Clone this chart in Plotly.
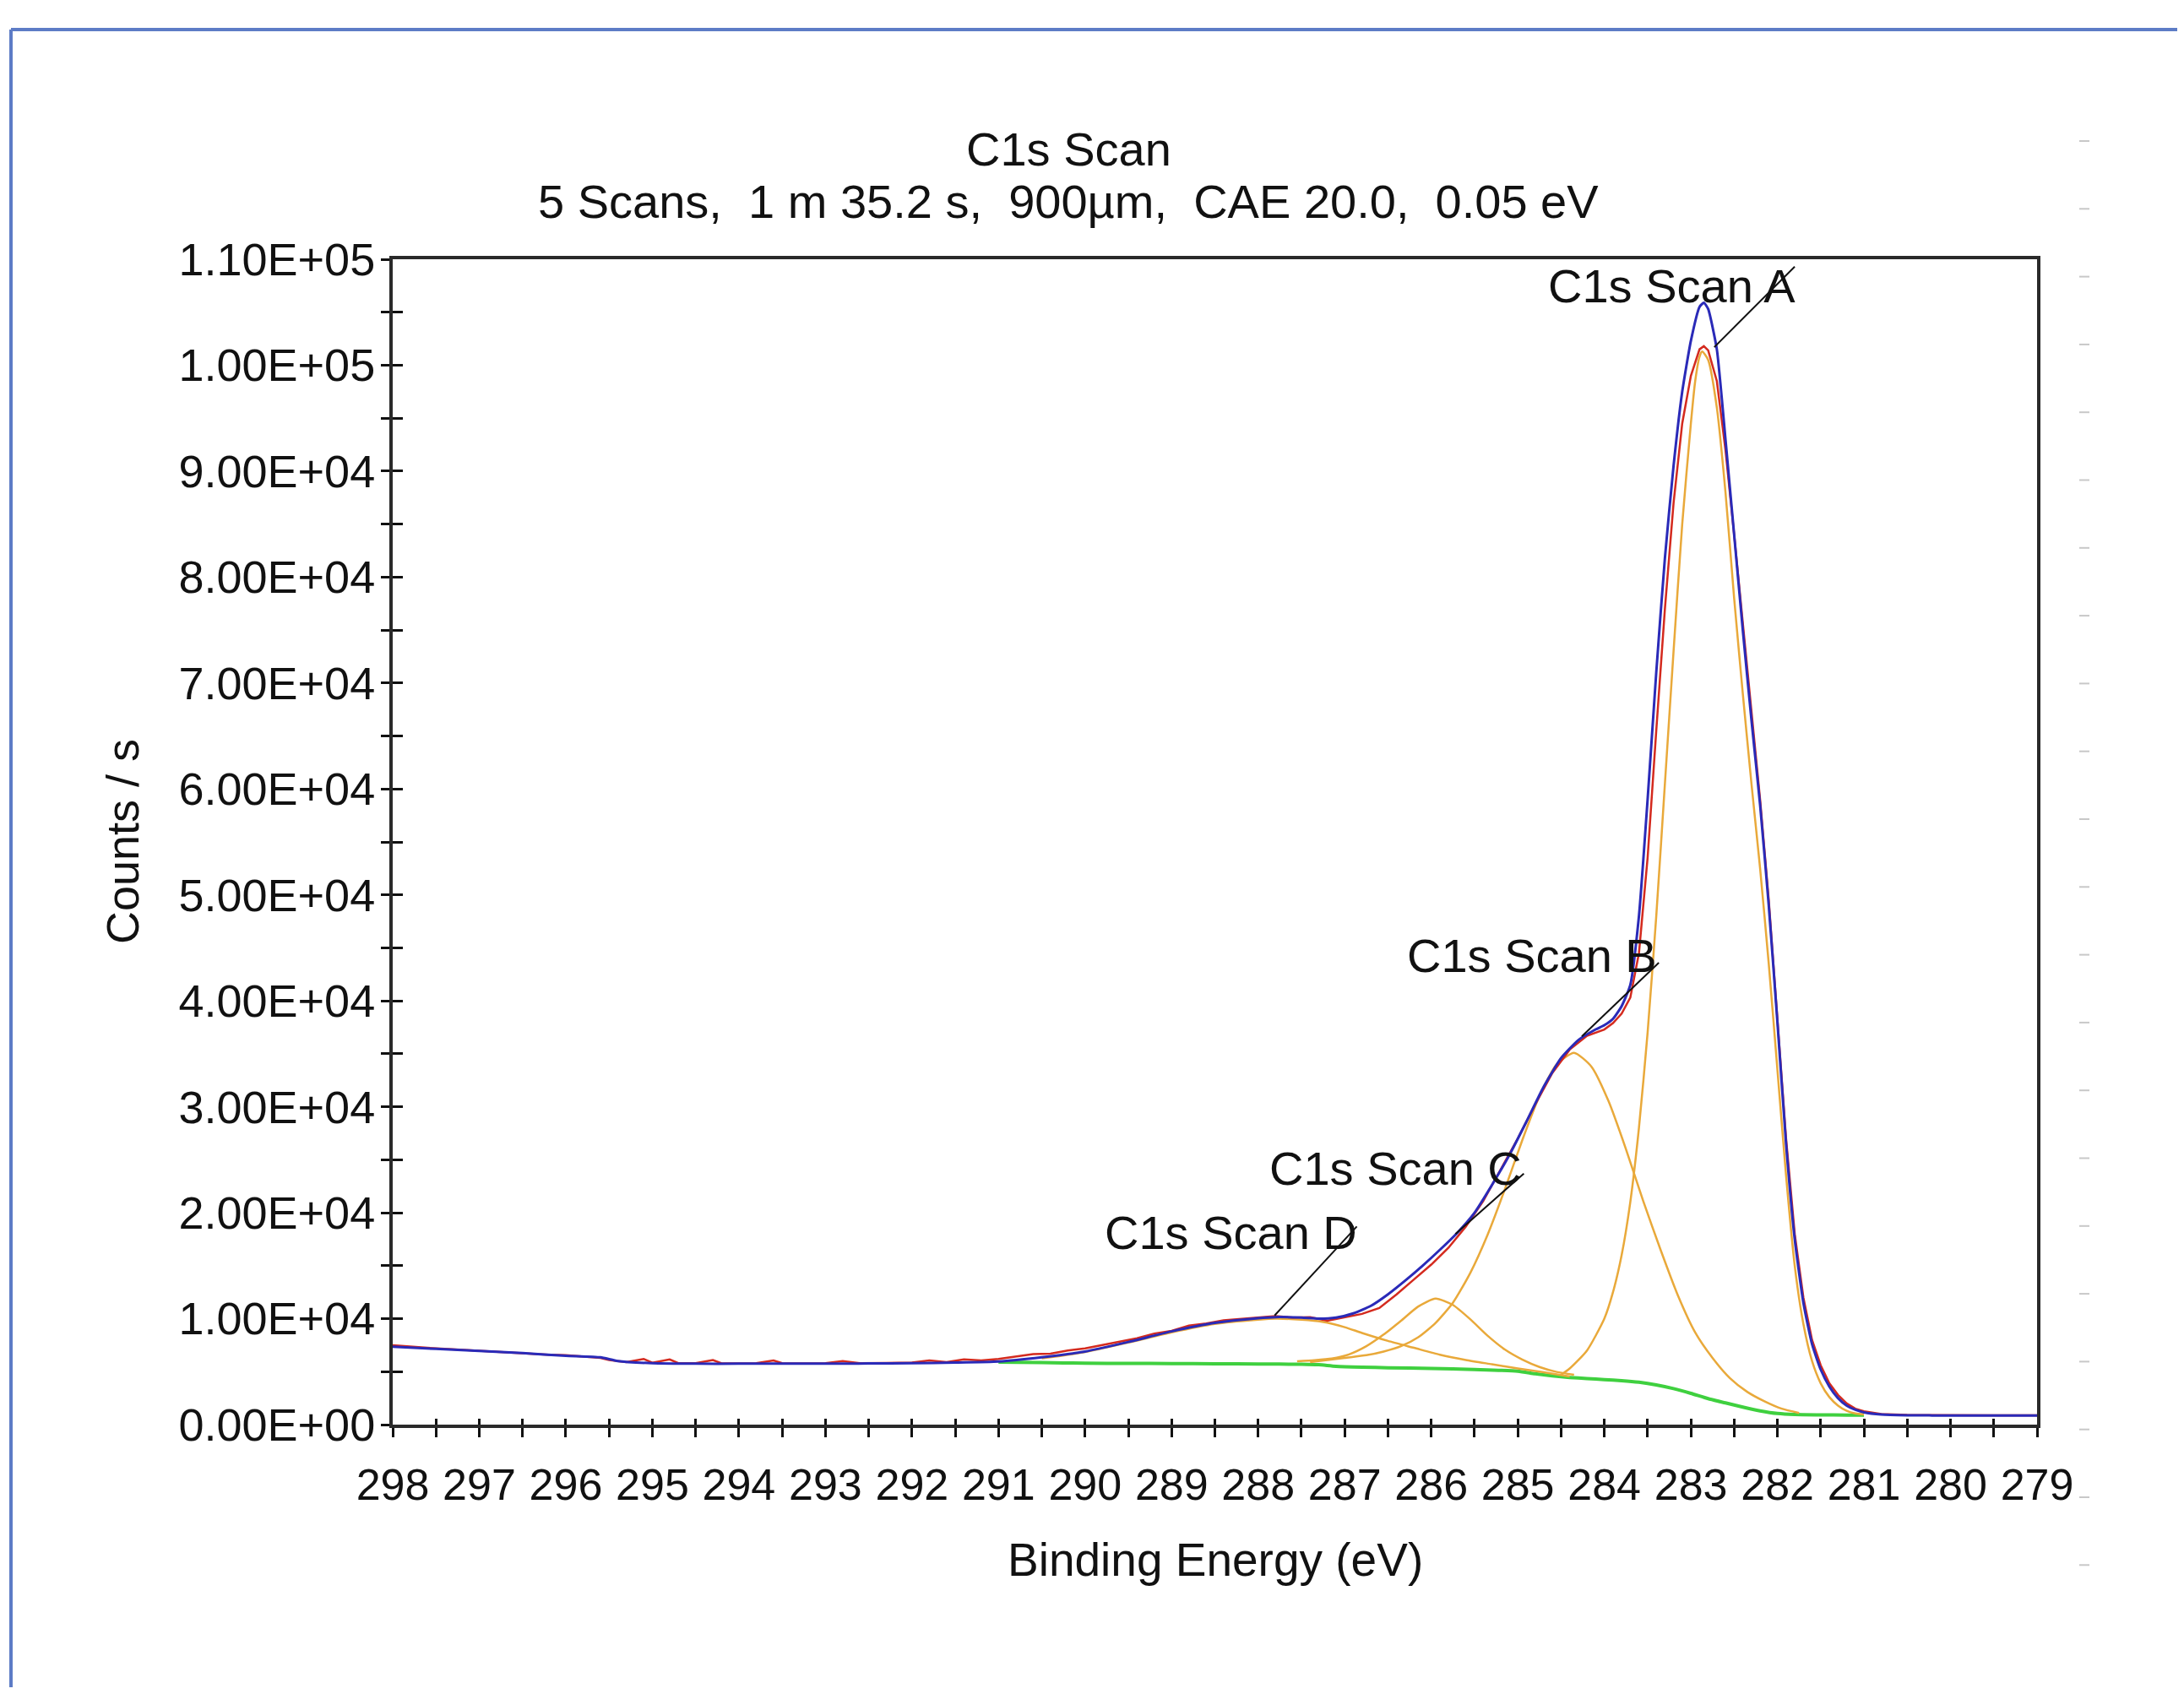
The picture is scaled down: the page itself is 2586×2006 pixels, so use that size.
import plotly.graph_objects as go

# ---------------- data ----------------
# Measured spectrum (red)
data_e = [298.0, 297.8, 297.6, 297.4, 297.2, 297.0, 296.8, 296.6, 296.4, 296.2, 296.0, 295.8, 295.6, 295.5,
          295.3, 295.1, 295.0, 294.8, 294.7, 294.5, 294.3, 294.2, 294.0, 293.8, 293.6, 293.5, 293.2, 293.0,
          292.8, 292.6, 292.3, 292.0, 291.8, 291.6, 291.4, 291.2, 291.0, 290.8, 290.6, 290.4, 290.2, 290.0,
          289.8, 289.6, 289.4, 289.2, 289.0, 288.8, 288.6, 288.4, 288.2, 288.0, 287.8, 287.6, 287.4, 287.2,
          287.0, 286.8, 286.6, 286.4, 286.2, 286.0, 285.8, 285.6, 285.4, 285.2, 285.0, 284.8, 284.6, 284.4,
          284.2, 284.0, 283.9, 283.8, 283.7, 283.6, 283.5, 283.4, 283.3, 283.2, 283.1, 283.0, 282.9, 282.85,
          282.8, 282.7, 282.6, 282.5, 282.4, 282.3, 282.2, 282.1, 282.0, 281.9, 281.8, 281.7, 281.6, 281.5,
          281.4, 281.3, 281.2, 281.1, 281.0, 280.8, 280.5, 280.0, 279.5, 279.0]
data_c = [7500, 7350, 7250, 7150, 7050, 7000, 6900, 6800, 6700, 6600, 6550, 6450, 6300, 6100,
          5900, 6200, 5850, 6150, 5800, 5800, 6100, 5780, 5780, 5800, 6050, 5800, 5780, 5800,
          6000, 5800, 5820, 5850, 6050, 5900, 6150, 6050, 6200, 6400, 6650, 6700, 7000, 7200,
          7500, 7800, 8150, 8600, 8850, 9350, 9550, 9850, 10000, 10150, 10250, 10100, 10150, 9800,
          10150, 10450, 11000, 12300, 13700, 15100, 16700, 18700, 21100, 24000, 27000, 30200, 33200, 35400,
          36700, 37300, 37900, 38800, 40300, 44500, 53500, 65500, 77000, 87000, 94500, 99000, 101500, 101800,
          101400, 98500, 92000, 84000, 75500, 67000, 59000, 49500, 38500, 27000, 18000, 12000, 8000, 5600,
          3900, 2800, 2000, 1500, 1250, 1000, 920, 880, 870, 870]

# Fitted envelope (blue)
env_e = [298.0, 297.5, 297.0, 296.5, 296.0, 295.6, 295.4, 295.0, 294.5, 294.0, 293.5, 293.0, 292.5, 292.0,
         291.5, 291.0, 290.5, 290.0, 289.5, 289.0, 288.5, 288.0, 287.8, 287.5, 287.3, 287.1, 286.9, 286.7,
         286.5, 286.3, 286.1, 285.9, 285.7, 285.5, 285.3, 285.1, 284.9, 284.7, 284.5, 284.3, 284.1, 284.0,
         283.9, 283.8, 283.7, 283.6, 283.5, 283.4, 283.3, 283.2, 283.1, 283.0, 282.9, 282.85, 282.8, 282.7,
         282.6, 282.5, 282.4, 282.3, 282.2, 282.1, 282.0, 281.9, 281.8, 281.7, 281.6, 281.5, 281.4, 281.3,
         281.2, 281.1, 281.0, 280.8, 280.5, 280.0, 279.5, 279.0]
env_c = [7350, 7150, 6950, 6750, 6500, 6350, 6000, 5800, 5750, 5750, 5750, 5750, 5770, 5800,
         5850, 5950, 6350, 6900, 7800, 8800, 9600, 10050, 10150, 10100, 10000, 10100, 10500, 11200,
         12300, 13600, 15000, 16500, 18100, 20000, 22600, 25400, 28600, 31900, 34600, 36300, 37300, 37700,
         38300, 39500, 41500, 48000, 59000, 71000, 81800, 90500, 97500, 102300, 105500, 105900, 105300, 101500,
         93000, 84000, 75000, 66500, 58500, 49000, 38000, 26500, 17500, 11500, 7600, 5200, 3600, 2500,
         1800, 1400, 1150, 950, 880, 860, 850, 850]

# Background (green)
bg_e = [291.0, 290.5, 290.0, 289.5, 289.0, 288.5, 288.0, 287.5, 287.3, 287.1, 286.8, 286.5, 286.0, 285.5,
        285.0, 284.8, 284.6, 284.4, 284.2, 284.0, 283.8, 283.6, 283.4, 283.2, 283.0, 282.8, 282.6, 282.4,
        282.2, 282.0, 281.8, 281.5, 281.2, 281.0]
bg_c = [5900, 5850, 5800, 5780, 5760, 5740, 5720, 5700, 5650, 5500, 5420, 5370, 5300, 5200,
        5050, 4800, 4600, 4450, 4350, 4250, 4150, 4000, 3750, 3400, 2950, 2450, 2050, 1650,
        1300, 1050, 950, 920, 900, 900]

# Fitted components (orange)
compA_e = [284.5, 284.4, 284.2, 284.0, 283.9, 283.8, 283.7, 283.6, 283.5, 283.4, 283.3, 283.2, 283.1, 283.0,
           282.95, 282.9, 282.87, 282.8, 282.7, 282.6, 282.5, 282.4, 282.3, 282.2, 282.1, 282.0, 281.9,
           281.8, 281.7, 281.6, 281.5, 281.4, 281.3, 281.2, 281.1, 281.0]
compA_c = [4700, 5300, 7000, 10000, 12500, 16000, 21000, 28000, 37000, 48000, 60500, 73000, 85000, 94500,
           98500, 100800, 101300, 100500, 96000, 88000, 78000, 69000, 60500, 52500, 43500, 33500, 23500,
           15000, 9500, 6000, 3900, 2600, 1800, 1300, 1050, 950]

compB_e = [287.4, 287.0, 286.75, 286.55, 286.35, 286.15, 285.95, 285.75, 285.55, 285.35, 285.15, 284.95,
           284.75, 284.55, 284.35, 284.15, 283.95, 283.75, 283.55, 283.35, 283.15, 282.95, 282.75, 282.55,
           282.35, 282.15, 281.95, 281.75]
compB_c = [5900, 6300, 6550, 6900, 7400, 8250, 9600, 11500, 14300, 17900, 22200, 26800,
           31000, 34000, 35100, 33800, 30500, 26000, 21100, 16500, 12200, 8700, 6300, 4400,
           3100, 2200, 1500, 1100]

compC_e = [287.55, 287.35, 287.15, 286.95, 286.75, 286.55, 286.35, 286.15, 285.95, 285.75, 285.55, 285.35,
           285.15, 284.95, 284.75, 284.55, 284.35]
compC_c = [5980, 6080, 6240, 6630, 7400, 8500, 9800, 11150, 11900, 11300, 9950, 8400,
           7090, 6150, 5440, 4970, 4710]

compD_e = [290.5, 290.0, 289.5, 289.0, 288.5, 288.0, 287.8, 287.5, 287.26, 287.0, 286.8, 286.5, 286.2,
           285.9, 285.6, 285.3, 285.0, 284.7, 284.4]
compD_c = [6250, 6850, 7750, 8700, 9500, 9900, 10000, 9900, 9700, 9200, 8650, 7900, 7250,
           6600, 6100, 5700, 5300, 4950, 4550]

# Peak labels: text position and leader line (from label to peak)
peak_names = ["C1s Scan A", "C1s Scan B", "C1s Scan C", "C1s Scan D"]
label_e = [283.22, 284.84, 286.41, 288.31]
label_c = [107500, 44300, 24200, 18150]
leader_start_e = [281.80, 283.37, 284.93, 286.86]
leader_start_c = [109300, 43600, 23700, 18700]
leader_end_e = [282.73, 284.26, 285.72, 287.81]
leader_end_c = [101700, 36650, 18000, 10300]

x_range = [298, 279]
y_range = [0, 110000]
y_tickvals = [i * 10000 for i in range(12)]
y_ticktext = [f"{v:.2E}" for v in y_tickvals]

title_line1 = "C1s Scan"
title_line2 = "5 Scans,  1 m 35.2 s,  900µm,  CAE 20.0,  0.05 eV"
x_title = "Binding Energy (eV)"
y_title = "Counts / s"

# ---------------- styling ----------------
FONT = "Arial, Liberation Sans, sans-serif"
C_ENV = "#2a2ab8"
C_DATA = "#d42a1e"
C_COMP = "#e9a93a"
C_BG = "#3fd03f"
OFF = 8  # page body margin
W, H = 2570, 1990
ML, MT = 457, 299
PW, PH = 1947, 1380
MR, MB = W - ML - PW, H - MT - PH


def px_x(px):
    # screen pixel -> paper x
    return (px - OFF - ML) / PW


def px_y(py):
    # screen pixel -> paper y
    return (MT + PH - (py - OFF)) / PH


fig = go.Figure()

fig.add_trace(go.Scatter(x=bg_e, y=bg_c, mode="lines", line=dict(color=C_BG, width=4, shape="spline", smoothing=0.6),
                         name="Background", hoverinfo="skip"))
for ce, cc, nm in [(compD_e, compD_c, "D"), (compC_e, compC_c, "C"), (compB_e, compB_c, "B"), (compA_e, compA_c, "A")]:
    fig.add_trace(go.Scatter(x=ce, y=cc, mode="lines",
                             line=dict(color=C_COMP, width=2.5, shape="spline", smoothing=0.6),
                             name="C1s Scan " + nm))
fig.add_trace(go.Scatter(x=data_e, y=data_c, mode="lines", line=dict(color=C_DATA, width=2.5), name="Data"))
fig.add_trace(go.Scatter(x=env_e, y=env_c, mode="lines",
                         line=dict(color=C_ENV, width=3, shape="spline", smoothing=0.5), name="Envelope"))

# leader lines
for i in range(len(peak_names)):
    fig.add_trace(go.Scatter(x=[leader_start_e[i], leader_end_e[i]], y=[leader_start_c[i], leader_end_c[i]],
                             mode="lines", line=dict(color="#111111", width=2), hoverinfo="skip"))

# dummy trace for overlay axes (inner halves of the crossing ticks)
fig.add_trace(go.Scatter(x=[None], y=[None], xaxis="x2", yaxis="y2", hoverinfo="skip"))

annotations = []
for i, nm in enumerate(peak_names):
    annotations.append(dict(x=label_e[i], y=label_c[i], xref="x", yref="y", text=nm, showarrow=False,
                            font=dict(family=FONT, size=56, color="#111111"), xanchor="center", yanchor="middle"))
annotations += [
    dict(x=px_x(1265), y=px_y(176), xref="paper", yref="paper", text=title_line1, showarrow=False,
         font=dict(family=FONT, size=56, color="#111111"), xanchor="center", yanchor="middle"),
    dict(x=px_x(1265), y=px_y(239), xref="paper", yref="paper", text=title_line2, showarrow=False,
         font=dict(family=FONT, size=56, color="#111111"), xanchor="center", yanchor="middle"),
    dict(x=0.5, y=px_y(1847), xref="paper", yref="paper", text=x_title, showarrow=False,
         font=dict(family=FONT, size=55, color="#111111"), xanchor="center", yanchor="middle"),
    dict(x=px_x(145), y=0.5, xref="paper", yref="paper", text=y_title, showarrow=False, textangle=-90,
         font=dict(family=FONT, size=54, color="#111111"), xanchor="center", yanchor="middle"),
]

shapes = [
    dict(type="line", xref="paper", yref="paper", x0=px_x(13), x1=px_x(2600), y0=px_y(35), y1=px_y(35),
         line=dict(color="#5d7cc6", width=4)),
    dict(type="line", xref="paper", yref="paper", x0=px_x(13), x1=px_x(13), y0=px_y(35), y1=px_y(2010),
         line=dict(color="#5d7cc6", width=4)),
]
# faint residual tick dashes at the far right of the figure
for k in range(22):
    yy = px_y(167 + k * 80.3)
    shapes.append(dict(type="line", xref="paper", yref="paper", x0=px_x(2462), x1=px_x(2474), y0=yy, y1=yy,
                       line=dict(color="#c8c8c8", width=2)))

tickfont = dict(family=FONT, size=52, color="#111111")
fig.update_layout(
    width=W, height=H,
    margin=dict(l=ML, r=MR, t=MT, b=MB, autoexpand=False),
    paper_bgcolor="white", plot_bgcolor="white",
    showlegend=False,
    annotations=annotations,
    shapes=shapes,
    xaxis=dict(range=x_range, tickmode="linear", tick0=279, dtick=1, ticks="outside", ticklen=11, tickwidth=3,
               tickcolor="#111111", showline=True, linewidth=4, linecolor="#2a2a2a", mirror=True,
               showgrid=False, zeroline=False, tickfont=tickfont, ticklabelstandoff=12,
               minor=dict(dtick=0.5, tick0=279, ticks="outside", ticklen=11, tickwidth=3, tickcolor="#111111",
                          showgrid=False)),
    yaxis=dict(range=y_range, tickmode="array", tickvals=y_tickvals, ticktext=y_ticktext, ticks="outside",
               ticklen=10, tickwidth=3, tickcolor="#111111", showline=True, linewidth=4, linecolor="#2a2a2a",
               mirror=True, showgrid=False, zeroline=False, tickfont=dict(family=FONT, size=54, color="#111111"),
               ticklabelstandoff=-4,
               minor=dict(dtick=5000, tick0=0, ticks="outside", ticklen=10, tickwidth=3, tickcolor="#111111",
                          showgrid=False)),
    xaxis2=dict(range=x_range, overlaying="x", anchor="y", side="bottom", tickmode="linear", tick0=279, dtick=1,
                ticks="inside", ticklen=7, tickwidth=3, tickcolor="#111111", showticklabels=False,
                showline=False, showgrid=False, zeroline=False,
                minor=dict(dtick=0.5, tick0=279, ticks="inside", ticklen=7, tickwidth=3, tickcolor="#111111",
                           showgrid=False)),
    yaxis2=dict(range=y_range, overlaying="y", anchor="x", side="left", tickmode="array", tickvals=y_tickvals,
                ticks="inside", ticklen=12, tickwidth=3, tickcolor="#111111", showticklabels=False,
                showline=False, showgrid=False, zeroline=False,
                minor=dict(dtick=5000, tick0=0, ticks="inside", ticklen=12, tickwidth=3, tickcolor="#111111",
                           showgrid=False)),
)

fig.write_html("out.html")
